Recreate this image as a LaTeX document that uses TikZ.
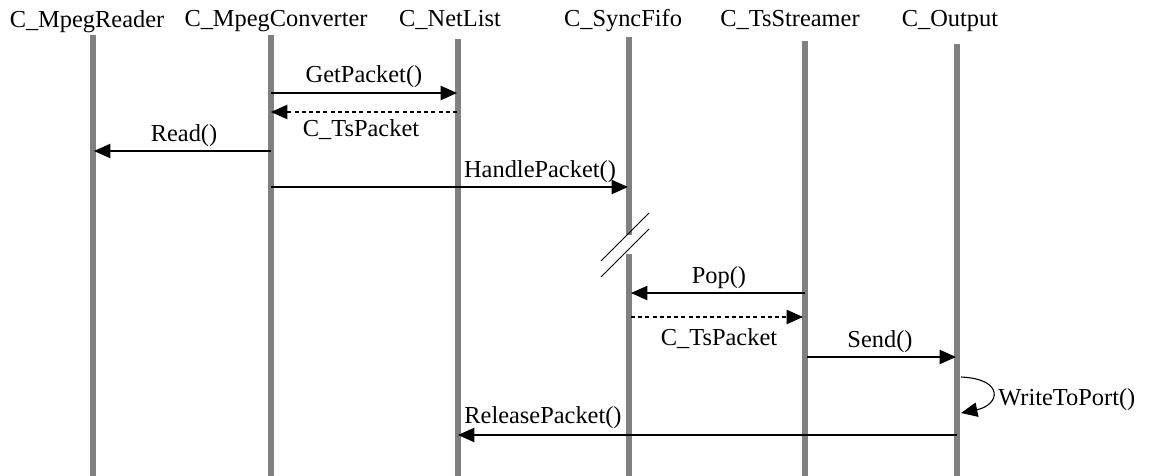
\documentclass[tikz,border=0pt]{standalone}
\usepackage{fontspec}
\setmainfont{Liberation Serif}
\usetikzlibrary{arrows.meta}
\tikzset{
  lifeline/.style={draw=black!50, line width=2.9pt},
  msg/.style={draw=black, line width=0.55pt, -{Triangle[length=8.2pt,width=7.2pt]}},
  ret/.style={msg, dash pattern=on 2pt off 1.6pt},
  brk/.style={draw=black, line width=0.5pt},
  lbl/.style={font=\fontsize{12.2}{14}\selectfont, inner sep=0pt, anchor=base},
  head/.style={lbl}
}
\begin{document}
\begin{tikzpicture}[x=0.5pt,y=-0.5pt]
\useasboundingbox (0,0) rectangle (1152,476);
% heads
\node[head] (hReader) at (87,28) {C\_MpegReader};
\node[head] (hConv) at (276,27) {C\_MpegConverter};
\node[head] (hNet) at (450,27) {C\_NetList};
\node[head] (hFifo) at (623,27) {C\_SyncFifo};
\node[head] (hTs) at (790,27) {C\_TsStreamer};
\node[head] (hOut) at (950,27) {C\_Output};
% lifeline ends
\coordinate (rT) at (93,35);  \coordinate (rB) at (93,476);
\coordinate (cT) at (271,35); \coordinate (cB) at (271,476);
\coordinate (nT) at (458,39); \coordinate (nB) at (458,476);
\coordinate (fT) at (629,37); \coordinate (fM1) at (629,235);
\coordinate (fM2) at (629,254); \coordinate (fB) at (629,476);
\coordinate (tT) at (805,41); \coordinate (tB) at (805,476);
\coordinate (oT) at (957,44); \coordinate (oB) at (957,476);
\draw[lifeline] (rT) -- (rB);
\draw[lifeline] (cT) -- (cB);
\draw[lifeline] (nT) -- (nB);
\draw[lifeline] (fT) -- (fM1);
\draw[lifeline] (fM2) -- (fB);
\draw[lifeline] (tT) -- (tB);
\draw[lifeline] (oT) -- (oB);
% break marks
\coordinate (b1a) at (601,261); \coordinate (b1b) at (649,213);
\coordinate (b2a) at (601,277); \coordinate (b2b) at (649,229);
\draw[brk] (b1a) -- (b1b);
\draw[brk] (b2a) -- (b2b);
% message points
\coordinate (m1s) at (271,93);  \coordinate (m1e) at (457,93);
\coordinate (m2s) at (457,112); \coordinate (m2e) at (271,112);
\coordinate (m3s) at (271,151); \coordinate (m3e) at (94,151);
\coordinate (m4s) at (271,187); \coordinate (m4e) at (628,187);
\coordinate (m5s) at (805,293); \coordinate (m5e) at (631,293);
\coordinate (m6s) at (631,317); \coordinate (m6e) at (803,317);
\coordinate (m7s) at (807,357); \coordinate (m7e) at (956,357);
\coordinate (m8s) at (961,377); \coordinate (m8e) at (961,413);
\coordinate (m9s) at (957,435); \coordinate (m9e) at (458,435);
\draw[msg] (m1s) -- (m1e);
\draw[ret] (m2s) -- (m2e);
\draw[msg] (m3s) -- (m3e);
\draw[msg] (m4s) -- (m4e);
\draw[msg] (m5s) -- (m5e);
\draw[ret] (m6s) -- (m6e);
\draw[msg] (m7s) -- (m7e);
\draw[msg] (m8s) .. controls (1005,379) and (1000,405) .. (m8e);
\draw[msg] (m9s) -- (m9e);
% labels
\node[lbl] (l1) at (364,83) {GetPacket()};
\node[lbl] (l2) at (361,137) {C\_TsPacket};
\node[lbl] (l3) at (184,141) {Read()};
\node[lbl] (l4) at (540,177) {HandlePacket()};
\node[lbl] (l5) at (719,283) {Pop()};
\node[lbl] (l6) at (719,345) {C\_TsPacket};
\node[lbl] (l7) at (880,347) {Send()};
\node[lbl, anchor=base west] (l8) at (998,405) {WriteToPort()};
\node[lbl] (l9) at (543,423) {ReleasePacket()};
\end{tikzpicture}
\end{document}
